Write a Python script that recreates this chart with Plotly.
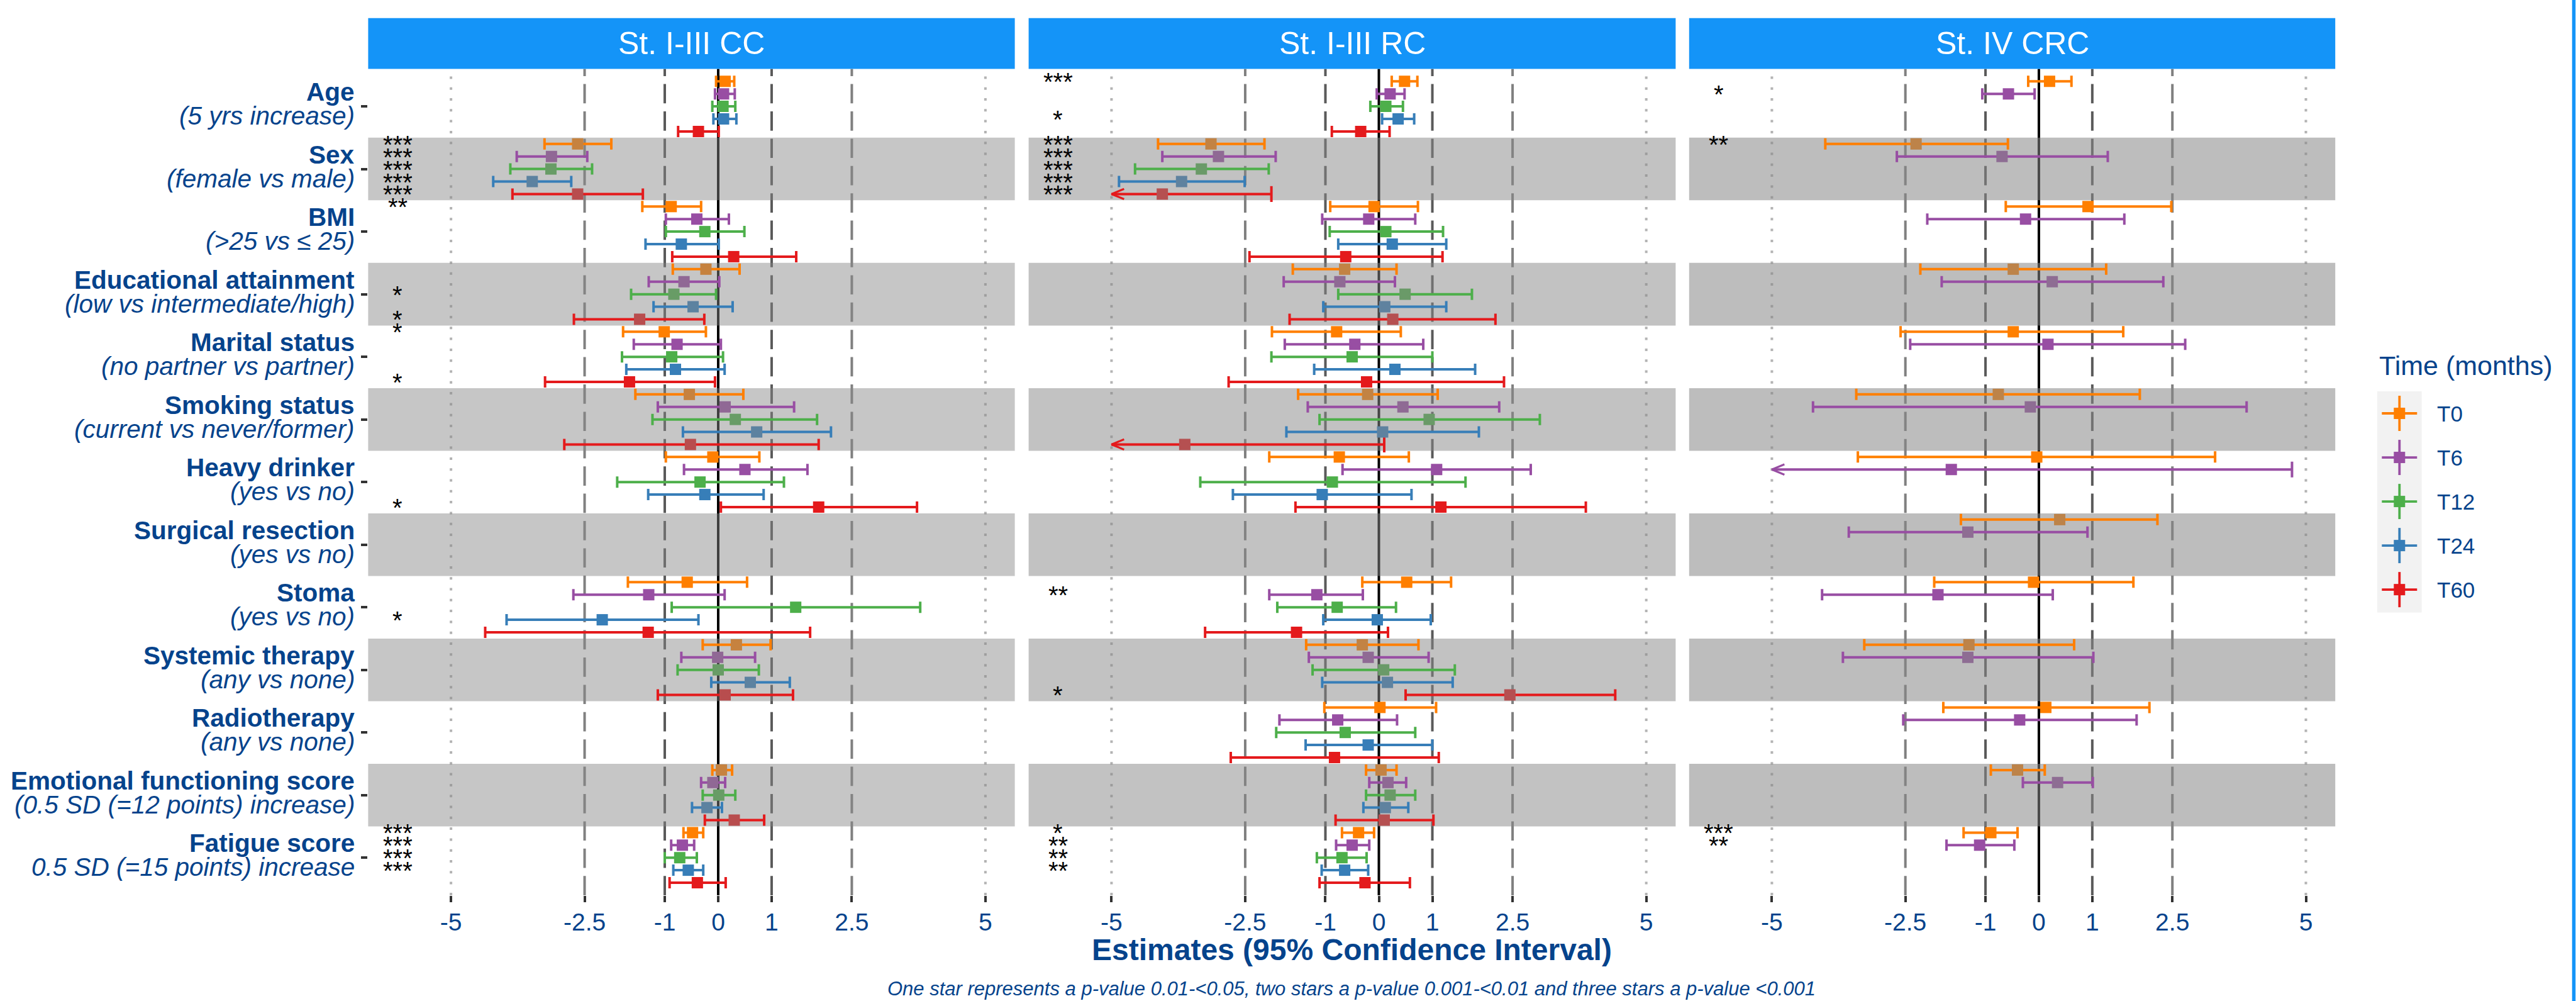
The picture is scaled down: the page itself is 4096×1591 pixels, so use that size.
import plotly.graph_objects as go

W, H = 4096, 1591
N = None

# ---------------- data ----------------
categories = ["Age", "Sex", "BMI", "Educational attainment", "Marital status",
              "Smoking status", "Heavy drinker", "Surgical resection", "Stoma",
              "Systemic therapy", "Radiotherapy", "Emotional functioning score",
              "Fatigue score"]
subtitles = ["(5 yrs increase)", "(female vs male)", "(>25 vs \u2264 25)",
             "(low vs intermediate/high)", "(no partner vs partner)",
             "(current vs never/former)", "(yes vs no)", "(yes vs no)", "(yes vs no)",
             "(any vs none)", "(any vs none)", "(0.5 SD (=12 points) increase)",
             "0.5 SD (=15 points) increase"]
panel_titles = ["St. I-III CC", "St. I-III RC", "St. IV CRC"]
times = ["T0", "T6", "T12", "T24", "T60"]
x_tick_values = [-5, -2.5, -1, 0, 1, 2.5, 5]
x_tick_labels = ["-5", "-2.5", "-1", "0", "1", "2.5", "5"]

# St. I-III CC
cc_T0_est = [0.13, -2.63, -0.88, -0.23, -1.01, -0.54, -0.10, N, -0.58, 0.34, N, 0.06, -0.48]
cc_T0_lo = [-0.04, -3.25, -1.42, -0.85, -1.78, -1.55, -0.98, N, -1.69, -0.29, N, -0.11, -0.65]
cc_T0_hi = [0.30, -2.00, -0.32, 0.40, -0.23, 0.47, 0.77, N, 0.54, 0.98, N, 0.26, -0.28]
cc_T0_sig = ["", "***", "**", "", "*", "", "", "", "", "", "", "", "***"]
cc_T6_est = [0.10, -3.12, -0.40, -0.64, -0.77, 0.13, 0.50, N, -1.30, -0.01, N, -0.10, -0.67]
cc_T6_lo = [-0.06, -3.77, -0.98, -1.30, -1.58, -1.13, -0.64, N, -2.71, -0.69, N, -0.32, -0.88]
cc_T6_hi = [0.31, -2.45, 0.20, 0.02, 0.05, 1.42, 1.67, N, 0.12, 0.69, N, 0.13, -0.45]
cc_T6_sig = ["", "***", "", "", "", "", "", "", "", "", "", "", "***"]
cc_T12_est = [0.09, -3.13, -0.25, -0.83, -0.87, 0.32, -0.34, N, 1.45, 0.00, N, 0.01, -0.72]
cc_T12_lo = [-0.11, -3.89, -0.98, -1.63, -1.80, -1.23, -1.89, N, -0.87, -0.76, N, -0.29, -1.00]
cc_T12_hi = [0.32, -2.36, 0.49, -0.04, 0.09, 1.85, 1.23, N, 3.78, 0.76, N, 0.32, -0.40]
cc_T12_sig = ["", "***", "", "*", "", "", "", "", "", "", "", "", "***"]
cc_T24_est = [0.10, -3.48, -0.69, -0.47, -0.80, 0.72, -0.25, N, -2.17, 0.60, N, -0.21, -0.56]
cc_T24_lo = [-0.09, -4.21, -1.36, -1.21, -1.72, -0.66, -1.31, N, -3.96, -0.13, N, -0.49, -0.84]
cc_T24_hi = [0.34, -2.75, 0.01, 0.27, 0.12, 2.11, 0.85, N, -0.37, 1.34, N, 0.07, -0.28]
cc_T24_sig = ["", "***", "", "", "", "", "", "", "*", "", "", "", "***"]
cc_T60_est = [-0.37, -2.63, 0.29, -1.47, -1.66, -0.52, 1.88, N, -1.31, 0.13, N, 0.30, -0.39]
cc_T60_lo = [-0.75, -3.85, -0.86, -2.70, -3.24, -2.88, 0.05, N, -4.36, -1.13, N, -0.25, -0.91]
cc_T60_hi = [0.01, -1.41, 1.46, -0.26, -0.06, 1.88, 3.72, N, 1.72, 1.40, N, 0.86, 0.14]
cc_T60_sig = ["", "***", "", "*", "*", "", "*", "", "", "", "", "", ""]

# St. I-III RC
rc_T0_est = [0.48, -3.14, -0.09, -0.64, -0.79, -0.21, -0.74, N, 0.52, -0.31, 0.02, 0.04, -0.38]
rc_T0_lo = [0.24, -4.13, -0.91, -1.61, -2.00, -1.51, -2.05, N, -0.31, -1.36, -1.02, -0.24, -0.69]
rc_T0_hi = [0.72, -2.14, 0.73, 0.33, 0.41, 1.10, 0.56, N, 1.35, 0.74, 1.07, 0.33, -0.09]
rc_T0_sig = ["***", "***", "", "", "", "", "", "", "", "", "", "", "*"]
rc_T6_est = [0.21, -3.00, -0.19, -0.73, -0.45, 0.45, 1.08, N, -1.16, -0.20, -0.77, 0.17, -0.50]
rc_T6_lo = [-0.04, -4.05, -1.06, -1.78, -1.76, -1.33, -0.68, N, -2.05, -1.31, -1.86, -0.18, -0.80]
rc_T6_hi = [0.48, -1.93, 0.68, 0.30, 0.83, 2.25, 2.84, N, -0.30, 0.93, 0.34, 0.51, -0.18]
rc_T6_sig = ["", "***", "", "", "", "", "", "", "**", "", "", "", "**"]
rc_T12_est = [0.13, -3.32, 0.13, 0.49, -0.50, 0.94, -0.87, N, -0.78, 0.09, -0.63, 0.21, -0.69]
rc_T12_lo = [-0.16, -4.56, -0.92, -0.76, -2.01, -1.11, -3.34, N, -1.90, -1.24, -1.92, -0.24, -1.16]
rc_T12_hi = [0.45, -2.06, 1.20, 1.74, 1.00, 3.01, 1.62, N, 0.32, 1.42, 0.68, 0.68, -0.23]
rc_T12_sig = ["", "***", "", "", "", "", "", "", "", "", "", "", "**"]
rc_T24_est = [0.36, -3.69, 0.25, 0.11, 0.30, 0.07, -1.06, N, -0.03, 0.16, -0.20, 0.12, -0.64]
rc_T24_lo = [0.06, -4.86, -0.76, -1.04, -1.21, -1.73, -2.73, N, -1.04, -1.06, -1.37, -0.29, -1.07]
rc_T24_hi = [0.66, -2.51, 1.26, 1.26, 1.80, 1.87, 0.61, N, 0.97, 1.38, 1.00, 0.55, -0.20]
rc_T24_sig = ["*", "***", "", "", "", "", "", "", "", "", "", "", "**"]
rc_T60_est = [-0.34, -4.05, -0.62, 0.26, -0.23, -3.63, 1.16, N, -1.54, 2.45, -0.83, 0.10, -0.26]
rc_T60_lo = [-0.88, -6.10, -2.42, -1.67, -2.81, -7.40, -1.56, N, -3.25, 0.50, -2.77, -0.81, -1.11]
rc_T60_hi = [0.20, -2.01, 1.19, 2.18, 2.34, 0.10, 3.87, N, 0.17, 4.42, 1.12, 1.02, 0.58]
rc_T60_sig = ["", "***", "", "", "", "", "", "", "", "*", "", "", ""]

# St. IV CRC (only T0 and T6)
crc_T0_est = [0.20, -2.30, 0.92, -0.48, -0.48, -0.76, -0.04, 0.39, -0.10, -1.31, 0.13, -0.40, -0.90]
crc_T0_lo = [-0.20, -4.00, -0.62, -2.22, -2.59, -3.42, -3.39, -1.46, -1.96, -3.27, -1.79, -0.90, -1.41]
crc_T0_hi = [0.61, -0.58, 2.48, 1.26, 1.58, 1.89, 3.30, 2.22, 1.77, 0.66, 2.07, 0.11, -0.40]
crc_T0_sig = ["", "**", "", "", "", "", "", "", "", "", "", "", "***"]
crc_T6_est = [-0.57, -0.69, -0.25, 0.25, 0.17, -0.16, -1.64, -1.33, -1.89, -1.33, -0.36, 0.35, -1.11]
crc_T6_lo = [-1.06, -2.66, -2.09, -1.82, -2.41, -4.23, -8.00, -3.56, -4.06, -3.67, -2.54, -0.30, -1.73]
crc_T6_hi = [-0.08, 1.29, 1.60, 2.33, 2.74, 3.89, 4.74, 0.91, 0.26, 1.02, 1.83, 1.01, -0.46]
crc_T6_sig = ["*", "", "", "", "", "", "", "", "", "", "", "", "**"]

panel_series = [
    [(cc_T0_est, cc_T0_lo, cc_T0_hi, cc_T0_sig), (cc_T6_est, cc_T6_lo, cc_T6_hi, cc_T6_sig),
     (cc_T12_est, cc_T12_lo, cc_T12_hi, cc_T12_sig), (cc_T24_est, cc_T24_lo, cc_T24_hi, cc_T24_sig),
     (cc_T60_est, cc_T60_lo, cc_T60_hi, cc_T60_sig)],
    [(rc_T0_est, rc_T0_lo, rc_T0_hi, rc_T0_sig), (rc_T6_est, rc_T6_lo, rc_T6_hi, rc_T6_sig),
     (rc_T12_est, rc_T12_lo, rc_T12_hi, rc_T12_sig), (rc_T24_est, rc_T24_lo, rc_T24_hi, rc_T24_sig),
     (rc_T60_est, rc_T60_lo, rc_T60_hi, rc_T60_sig)],
    [(crc_T0_est, crc_T0_lo, crc_T0_hi, crc_T0_sig), (crc_T6_est, crc_T6_lo, crc_T6_hi, crc_T6_sig),
     None, None, None],
]

# ---------------- style ----------------
FONT = "Liberation Sans, Arial, Helvetica, sans-serif"
BLUE = "#05438C"
STRIP = "#1494F8"
time_colors = ["#FF7F00", "#984EA3", "#4DAF4A", "#377EB8", "#E41A1C"]
dodge = [-0.4, -0.2, 0.0, 0.2, 0.4]
TRUNC = -5.0
STAR_X = -6.0
XRANGE = [-6.55, 5.55]
YRANGE = [13.6, 0.4]
PANEL_X = [(585.4, 1613.6), (1635.6, 2664.4), (2685.8, 3713.2)]
PANEL_TOP, PANEL_BOT, STRIP_TOP = 109.4, 1422.9, 28.7
BAND_G = 134
band_alpha = [0.471, 0.504, 0.545]
ARROW_DX, ARROW_DY = 0.235, 0.082


def blend(hexc, a):
    r, g, b = int(hexc[1:3], 16), int(hexc[3:5], 16), int(hexc[5:7], 16)
    f = lambda c: round(c * (1 - a) + BAND_G * a)
    return "rgb(%d,%d,%d)" % (f(r), f(g), f(b))


def px(xp):
    return xp / W


def py(yp):
    return 1 - yp / H


fig = go.Figure()
shapes, annotations = [], []
layout = {}

ref_lines = [(-5, "#b3b3b3", "4px,13.3px"), (5, "#b3b3b3", "4px,13.3px"),
             (-2.5, "#808080", "30.7px,12.7px"), (2.5, "#808080", "30.7px,12.7px"),
             (-1, "#5a5a5a", "30.7px,12.7px"), (1, "#5a5a5a", "30.7px,12.7px"),
             (0, "#000000", "solid")]

for p in range(3):
    xa = "x" if p == 0 else "x%d" % (p + 1)
    ya = "y" if p == 0 else "y%d" % (p + 1)
    x0p, x1p = PANEL_X[p]
    layout["xaxis" if p == 0 else "xaxis%d" % (p + 1)] = dict(
        domain=[px(x0p), px(x1p)], range=XRANGE, anchor=ya,
        tickmode="array", tickvals=x_tick_values, ticktext=x_tick_labels,
        ticks="outside", ticklen=10, tickwidth=4, tickcolor="#333333",
        tickfont=dict(size=39, color=BLUE, family=FONT), ticklabelstandoff=-2,
        showgrid=False, zeroline=False, showline=False)
    layout["yaxis" if p == 0 else "yaxis%d" % (p + 1)] = dict(
        domain=[py(PANEL_BOT), py(PANEL_TOP)], range=YRANGE, anchor=xa,
        tickmode="array", tickvals=list(range(1, len(categories) + 1)),
        showticklabels=False, ticks="outside" if p == 0 else "",
        ticklen=10, tickwidth=4, tickcolor="#333333",
        showgrid=False, zeroline=False, showline=False)

    # reference lines (drawn first, below the bands)
    for v, c, d in ref_lines:
        shapes.append(dict(type="line", xref=xa, yref=ya + " domain", x0=v, x1=v, y0=0, y1=1,
                           line=dict(color=c, width=4, dash=d), layer="below"))
    # alternating grey bands
    for i in range(len(categories)):
        if (i + 1) % 2 == 0:
            shapes.append(dict(type="rect", xref=xa + " domain", yref=ya, x0=0, x1=1,
                               y0=i + 0.5, y1=i + 1.5, line=dict(width=0),
                               fillcolor="rgba(%d,%d,%d,%.3f)" % (BAND_G, BAND_G, BAND_G, band_alpha[p]),
                               layer="below"))
    # strip
    shapes.append(dict(type="rect", xref="paper", yref="paper", x0=px(x0p), x1=px(x1p),
                       y0=py(PANEL_TOP), y1=py(STRIP_TOP), fillcolor=STRIP, line=dict(width=0)))
    annotations.append(dict(xref="paper", yref="paper", x=px((x0p + x1p) / 2),
                            y=py((PANEL_TOP + STRIP_TOP) / 2), text=panel_titles[p],
                            showarrow=False, xanchor="center", yanchor="middle",
                            font=dict(size=50, color="white", family=FONT)))

    series = panel_series[p]
    # error bars
    for t, s in enumerate(series):
        if s is None:
            continue
        est, lo, hi, sig = s
        col = time_colors[t]
        ypos = [i + 1 + dodge[t] for i in range(len(categories))]
        norm = [i for i in range(len(est)) if est[i] is not None and lo[i] >= TRUNC]
        trunc = [i for i in range(len(est)) if est[i] is not None and lo[i] < TRUNC]
        fig.add_trace(go.Scatter(
            x=[est[i] for i in norm], y=[ypos[i] for i in norm], xaxis=xa, yaxis=ya,
            mode="markers", marker=dict(size=1, color="rgba(0,0,0,0)"),
            error_x=dict(type="data", symmetric=False,
                         array=[hi[i] - est[i] for i in norm],
                         arrayminus=[est[i] - lo[i] for i in norm],
                         width=9, thickness=4, color=col),
            showlegend=False, hoverinfo="skip"))
        if trunc:
            fig.add_trace(go.Scatter(
                x=[est[i] for i in trunc], y=[ypos[i] for i in trunc], xaxis=xa, yaxis=ya,
                mode="markers", marker=dict(size=1, color="rgba(0,0,0,0)"),
                error_x=dict(type="data", symmetric=False,
                             array=[hi[i] - est[i] for i in trunc],
                             arrayminus=[est[i] - TRUNC for i in trunc],
                             width=0, thickness=4, color=col),
                showlegend=False, hoverinfo="skip"))
            fig.add_trace(go.Scatter(
                x=[hi[i] for i in trunc], y=[ypos[i] for i in trunc], xaxis=xa, yaxis=ya,
                mode="markers", marker=dict(symbol="line-ns", size=18, color=col,
                                            line=dict(width=4, color=col)),
                showlegend=False, hoverinfo="skip"))
            cx, cy = [], []
            for i in trunc:
                cx += [TRUNC + ARROW_DX, TRUNC, TRUNC + ARROW_DX, None]
                cy += [ypos[i] - ARROW_DY, ypos[i], ypos[i] + ARROW_DY, None]
            fig.add_trace(go.Scatter(x=cx, y=cy, xaxis=xa, yaxis=ya, mode="lines",
                                     line=dict(color=col, width=3.2), showlegend=False,
                                     hoverinfo="skip"))
    # squares and stars
    for t, s in enumerate(series):
        if s is None:
            continue
        est, lo, hi, sig = s
        col = time_colors[t]
        ypos = [i + 1 + dodge[t] for i in range(len(categories))]
        valid = [i for i in range(len(est)) if est[i] is not None]
        colors = [blend(col, band_alpha[p]) if (i + 1) % 2 == 0 else col for i in valid]
        fig.add_trace(go.Scatter(
            x=[est[i] for i in valid], y=[ypos[i] for i in valid], xaxis=xa, yaxis=ya,
            mode="markers", marker=dict(symbol="square", size=18, color=colors, line=dict(width=0)),
            name=times[t], showlegend=False, hoverinfo="skip"))
        for i in range(len(sig)):
            if sig[i]:
                annotations.append(dict(xref=xa, yref=ya, x=STAR_X, y=ypos[i], text=sig[i],
                                        showarrow=False, xanchor="center", yanchor="middle",
                                        yshift=-1, font=dict(size=40, color="black", family=FONT)))

# y-axis labels (bold name + italic description)
for i, (c, sub) in enumerate(zip(categories, subtitles)):
    annotations.append(dict(xref="paper", yref="y", x=px(565.5), y=i + 1, text="<b>%s</b>" % c,
                            showarrow=False, xanchor="right", yanchor="middle", yshift=23,
                            font=dict(size=40.5, color=BLUE, family=FONT)))
    annotations.append(dict(xref="paper", yref="y", x=px(565.5), y=i + 1, text="<i>%s</i>" % sub,
                            showarrow=False, xanchor="right", yanchor="middle", yshift=-15,
                            font=dict(size=40.5, color=BLUE, family=FONT)))

# x-axis title and caption
xc = px((PANEL_X[0][0] + PANEL_X[2][1]) / 2)
annotations.append(dict(xref="paper", yref="paper", x=xc, y=py(1509),
                        text="<b>Estimates (95% Confidence Interval)</b>", showarrow=False,
                        xanchor="center", yanchor="middle", font=dict(size=48, color=BLUE, family=FONT)))
annotations.append(dict(xref="paper", yref="paper", x=xc, y=py(1571.6),
                        text="<i>One star represents a p-value 0.01-&lt;0.05, two stars a p-value 0.001-&lt;0.01 and three stars a p-value &lt;0.001</i>",
                        showarrow=False, xanchor="center", yanchor="middle",
                        font=dict(size=31, color=BLUE, family=FONT)))

# legend (drawn manually: key background, cross glyph, square, label)
LEG_X0, LEG_X1, LEG_Y0, LEG_Y1 = 3780.0, 3850.6, 622.0, 973.5
KEY_CX, KEY_STEP, KEY_ARM, KEY_SQ = 3815.3, 70.03, 28.0, 9.0
annotations.append(dict(xref="paper", yref="paper", x=px(3780.6), y=py(580.5), text="Time (months)",
                        showarrow=False, xanchor="left", yanchor="middle",
                        font=dict(size=43, color=BLUE, family=FONT)))
shapes.append(dict(type="rect", xref="paper", yref="paper", x0=px(LEG_X0), x1=px(LEG_X1),
                   y0=py(LEG_Y1), y1=py(LEG_Y0), fillcolor="#F2F2F2", line=dict(width=0)))
for t, name in enumerate(times):
    cy = LEG_Y0 + KEY_STEP * (t + 0.5)
    col = time_colors[t]
    shapes.append(dict(type="line", xref="paper", yref="paper", x0=px(KEY_CX - KEY_ARM),
                       x1=px(KEY_CX + KEY_ARM), y0=py(cy), y1=py(cy), line=dict(color=col, width=3.8)))
    shapes.append(dict(type="line", xref="paper", yref="paper", x0=px(KEY_CX), x1=px(KEY_CX),
                       y0=py(cy - KEY_ARM), y1=py(cy + KEY_ARM), line=dict(color=col, width=3.8)))
    shapes.append(dict(type="rect", xref="paper", yref="paper", x0=px(KEY_CX - KEY_SQ),
                       x1=px(KEY_CX + KEY_SQ), y0=py(cy + KEY_SQ), y1=py(cy - KEY_SQ),
                       fillcolor=col, line=dict(width=0)))
    annotations.append(dict(xref="paper", yref="paper", x=px(3872.6), y=py(cy), text=name,
                            showarrow=False, xanchor="left", yanchor="middle",
                            font=dict(size=35, color=BLUE, family=FONT)))

# right border line
shapes.append(dict(type="line", xref="paper", yref="paper", x0=px(4092.5), x1=px(4092.5),
                   y0=0, y1=1, line=dict(color=STRIP, width=5.5)))

fig.update_layout(template="none", width=W, height=H, autosize=False,
                  margin=dict(l=0, r=0, t=0, b=0), paper_bgcolor="white", plot_bgcolor="white",
                  font=dict(family=FONT, color=BLUE), showlegend=False,
                  shapes=shapes, annotations=annotations, **layout)
fig.write_html("out.html", config={"displayModeBar": False},
               post_script="document.body.style.margin='0';document.body.style.padding='0';"
                           "document.documentElement.style.overflow='hidden';")
